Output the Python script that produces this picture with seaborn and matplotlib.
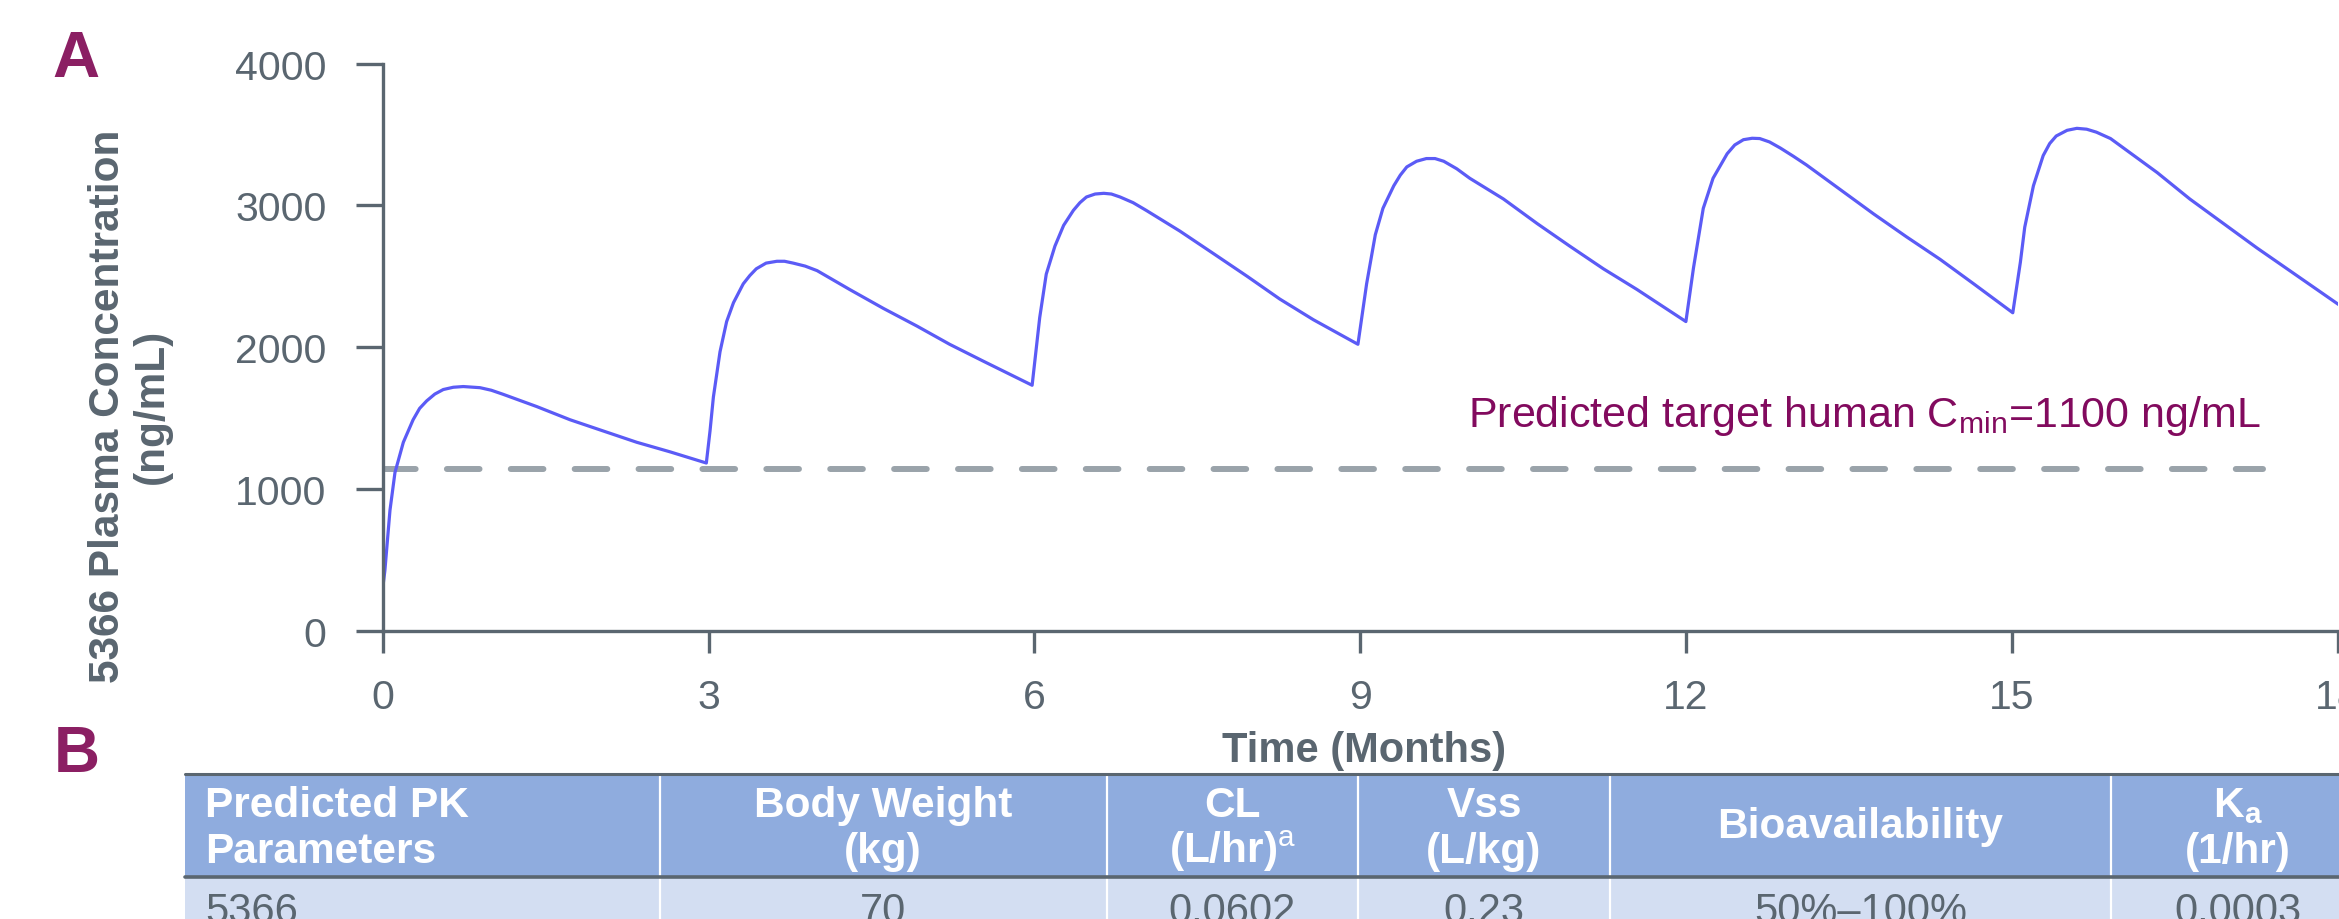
import numpy as np
import pandas as pd
import seaborn as sns
import matplotlib.pyplot as plt
from matplotlib.patches import Rectangle

# 5366 plasma concentration (time in months, ng/mL)
time_months = [0.0, 0.02, 0.067, 0.113, 0.19, 0.28, 0.34, 0.405, 0.48, 0.558, 0.65, 0.742, 0.896, 1.0, 1.11, 1.418,
               1.725, 2.03, 2.34, 2.645, 2.98,
               3.014, 3.045, 3.106, 3.167, 3.23, 3.32, 3.38, 3.44, 3.53, 3.63, 3.70, 3.78, 3.89, 4.0, 4.30, 4.61,
               4.92, 5.22, 5.53, 5.98,
               6.05, 6.11, 6.19, 6.27, 6.36, 6.42, 6.48, 6.56, 6.64, 6.71, 6.79, 6.91, 7.03, 7.34, 7.65, 7.96,
               8.26, 8.57, 8.98,
               9.06, 9.14, 9.21, 9.31, 9.37, 9.43, 9.52, 9.61, 9.69, 9.77, 9.89, 10.01, 10.32, 10.63, 10.93,
               11.24, 11.55, 12.0,
               12.07, 12.16, 12.25, 12.38, 12.45, 12.53, 12.61, 12.68, 12.77, 12.87, 12.99, 13.11, 13.42, 13.73,
               14.03, 14.34, 14.65, 15.01,
               15.08, 15.12, 15.20, 15.29, 15.35, 15.41, 15.51, 15.60, 15.69, 15.78, 15.91, 16.03, 16.34, 16.64,
               16.95, 17.26, 17.56, 18.01]
conc_ng_ml = [300, 425, 851, 1117, 1330, 1489, 1569, 1622, 1670, 1702, 1718, 1723, 1715, 1697, 1668, 1582,
              1489, 1410, 1330, 1263, 1184,
              1410, 1649, 1968, 2181, 2314, 2447, 2505, 2553, 2593, 2606, 2606, 2593, 2572, 2540, 2407, 2274,
              2149, 2021, 1902, 1732,
              2210, 2515, 2713, 2859, 2965, 3019, 3059, 3080, 3085, 3080, 3059, 3019, 2965, 2819, 2660, 2500,
              2340, 2194, 2021,
              2447, 2793, 2979, 3138, 3213, 3271, 3311, 3330, 3330, 3311, 3258, 3191, 3045, 2872, 2713,
              2553, 2407, 2181,
              2560, 2979, 3191, 3364, 3426, 3463, 3473, 3471, 3447, 3404, 3346, 3285, 3112, 2939,
              2779, 2620, 2447, 2243,
              2600, 2846, 3138, 3351, 3436, 3489, 3529, 3543, 3537, 3516, 3471, 3404, 3231, 3045,
              2872, 2699, 2540, 2301]

cmin_level = 1140          # dashed line as drawn
cmin_span = [0, 17.31]
x_ticks = [0, 3, 6, 9, 12, 15, 18]
y_ticks = [0, 1000, 2000, 3000, 4000]

table_header = [("Predicted PK", "Parameters"), ("Body Weight", "(kg)"), ("CL", "(L/hr)$^{\\mathrm{a}}$"),
                ("Vss", "(L/kg)"), ("Bioavailability", None), ("K$_{\\mathbf{a}}$", "(1/hr)")]
table_row = ["5366", "70", "0.0602", "0.23", "50%\u2013100%", "0.0003"]

W, H = 2339, 920
GREY = "#5A6670"
PURPLE = "#8B1F63"

sns.set_theme(style="ticks")
plt.rcParams["font.family"] = ["Liberation Sans", "DejaVu Sans"]
plt.rcParams["mathtext.fontset"] = "custom"
plt.rcParams["mathtext.rm"] = "Liberation Sans"
plt.rcParams["mathtext.bf"] = "Liberation Sans:bold"
plt.rcParams["mathtext.it"] = "Liberation Sans:italic"
plt.rcParams["lines.scale_dashes"] = False

fig = plt.figure(figsize=(W / 100, H / 100), dpi=100)

# --- panel A: concentration-time profile
ax = fig.add_axes([382.7 / W, 288 / H, (2337.5 - 382.7) / W, 567.5 / H])
df = pd.DataFrame({"t": time_months, "c": conc_ng_ml})
sns.lineplot(data=df, x="t", y="c", ax=ax, color="#5B5BF6", lw=2.3, sort=False, estimator=None)
ax.plot(cmin_span, [cmin_level, cmin_level], color="#9AA3AA", lw=4.3,
        dashes=(23.5, 22.5), dash_capstyle="round", solid_capstyle="round", zorder=1)
ax.text(17.29, 1446, "Predicted target human C$_{\\mathrm{min}}$=1100 ng/mL",
        ha="right", va="baseline", color="#820A5E", fontsize=31)

ax.set_xlim(0, 18)
ax.set_ylim(0, 4000)
ax.set_xticks(x_ticks)
ax.set_yticks(y_ticks)
sns.despine(ax=ax)
for s in ["left", "bottom"]:
    ax.spines[s].set_color(GREY)
    ax.spines[s].set_linewidth(2.4)
ax.tick_params(axis="both", colors=GREY, width=2.4, labelsize=29.5, labelcolor=GREY)
ax.tick_params(axis="x", length=16, pad=18)
ax.tick_params(axis="y", length=19.5, pad=21)

ax.set_xlabel("Time (Months)", fontsize=30, fontweight="bold", color=GREY)
ax.xaxis.label.set_va("baseline")
ax.xaxis.set_label_coords(0.502, -0.229)
ax.set_ylabel("5366 Plasma Concentration\n(ng/mL)", fontsize=30.5, fontweight="bold",
              color=GREY, linespacing=1.15)
ax.yaxis.label.set_va("center")
ax.yaxis.set_label_coords(-0.1293, 0.398)

fig.text(52 / W, 1 - 77 / H, "A", fontsize=47, fontweight="bold", color=PURPLE, ha="left", va="baseline")
fig.text(54 / W, 1 - 772 / H, "B", fontsize=46, fontweight="bold", color=PURPLE, ha="left", va="baseline")

# --- panel B: PK parameter table (pixel layout overlay)
tab = fig.add_axes([0, 0, 1, 1], zorder=-1)
tab.set_xlim(0, W)
tab.set_ylim(H, 0)
tab.axis("off")
col_edges = [185, 659.5, 1107, 1358, 1610, 2111, 2365]
head_top, head_bot, row_bot = 775, 878, 940
tab.add_patch(Rectangle((col_edges[0], head_top), col_edges[-1] - col_edges[0], head_bot - head_top,
                        color="#8FACDE", lw=0))
tab.add_patch(Rectangle((col_edges[0], head_bot), col_edges[-1] - col_edges[0], row_bot - head_bot,
                        color="#D3DEF2", lw=0))
for xe in col_edges[1:-1]:
    tab.plot([xe, xe], [head_top, row_bot], color="white", lw=1.6)
tab.plot([col_edges[0], col_edges[-1]], [head_top, head_top], color=GREY, lw=2.2)
tab.plot([col_edges[0], col_edges[-1]], [head_bot, head_bot], color=GREY, lw=2.6)

for i, ((l1, l2), val) in enumerate(zip(table_header, table_row)):
    if i == 0:
        xt, ha = 205, "left"
    else:
        xt, ha = (col_edges[i] + col_edges[i + 1]) / 2, "center"
    if l2 is None:
        tab.text(xt, 838, l1, ha=ha, va="baseline", color="white", fontsize=30.5, fontweight="bold")
    else:
        tab.text(xt, 817, l1, ha=ha, va="baseline", color="white", fontsize=30.5, fontweight="bold")
        tab.text(xt, 863, l2, ha=ha, va="baseline", color="white", fontsize=30.5, fontweight="bold")
    tab.text(xt, 923, val, ha=ha, va="baseline", color=GREY, fontsize=30)

fig.savefig("out.png", dpi=100)
